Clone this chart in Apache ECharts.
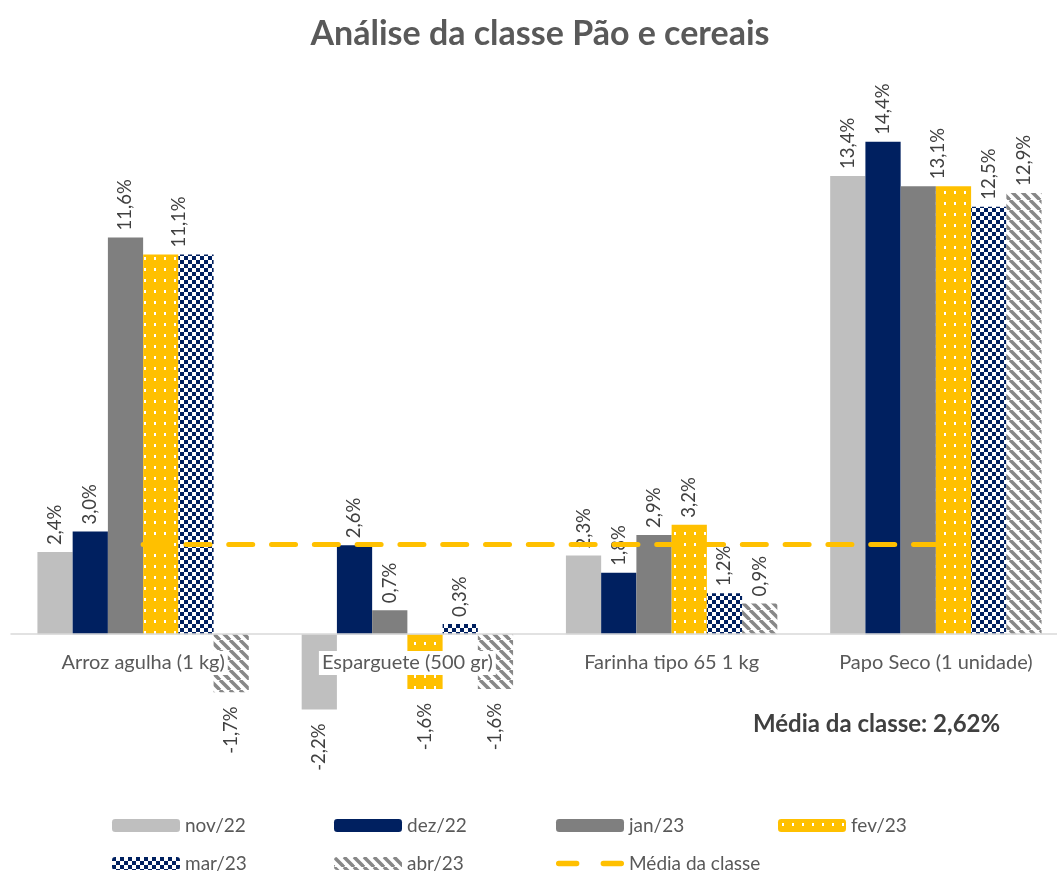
<!DOCTYPE html>
<html>
<head>
<meta charset="utf-8">
<title>Análise da classe Pão e cereais</title>
<script src="https://cdn.jsdelivr.net/npm/echarts@6/dist/echarts.min.js"></script>
<style>
  html, body { margin: 0; padding: 0; background: #fff; overflow: hidden; }
  #chart { width: 1080px; height: 875px; }
</style>
</head>
<body>
<div id="chart"></div>
<script>
// dados
var categorias = ['Arroz agulha (1 kg)', 'Esparguete (500 gr)', 'Farinha tipo 65 1 kg', 'Papo Seco (1 unidade)'];
var nov22 = [2.4, -2.2, 2.3, 13.4];
var dez22 = [3.0, 2.6, 1.8, 14.4];
var jan23 = [11.6, 0.7, 2.9, 13.1];
var fev23 = [11.1, -1.6, 3.2, 13.1];
var mar23 = [11.1, 0.3, 1.2, 12.5];
var abr23 = [-1.7, -1.6, 0.9, 12.9];
var mediaClasse = [2.62, 2.62, 2.62, 2.62];

var chart = echarts.init(document.getElementById('chart'));

// padrões de preenchimento (pontos, xadrez, riscas)
function padrao(w, h, desenhar) {
    var c = document.createElement('canvas');
    c.width = w; c.height = h;
    desenhar(c.getContext('2d'));
    return { image: c, repeat: 'repeat' };
}
var pontos = padrao(10, 11, function (ctx) {
    ctx.fillStyle = '#FFC000'; ctx.fillRect(0, 0, 10, 11);
    ctx.fillStyle = '#ffffff'; ctx.fillRect(4, 4, 2, 3);
});
var xadrez = padrao(8, 8, function (ctx) {
    ctx.fillStyle = '#ffffff'; ctx.fillRect(0, 0, 8, 8);
    ctx.fillStyle = '#002060'; ctx.fillRect(0, 0, 4, 4); ctx.fillRect(4, 4, 4, 4);
});
var riscas = padrao(10, 10, function (ctx) {
    ctx.fillStyle = '#ffffff'; ctx.fillRect(0, 0, 10, 10);
    ctx.strokeStyle = '#878787'; ctx.lineWidth = 3.5;
    [-10, 0, 10].forEach(function (k) {
        ctx.beginPath(); ctx.moveTo(k, 0); ctx.lineTo(k + 10, 10); ctx.stroke();
    });
});

function fmt(v) { return v.toFixed(1).replace('.', ',') + '%'; }

// etiquetas verticais: acima das barras positivas, abaixo das negativas
// (o offset é no referencial rodado: [0, +n] desloca para a direita)
function dadosComEtiquetas(valores, ocultar, desvios) {
    return valores.map(function (v, i) {
        var lab = v >= 0
            ? { position: 'top', align: 'left', distance: 7 }
            : { position: 'bottom', align: 'right', distance: 14 };
        if (ocultar && ocultar.indexOf(i) >= 0) lab.show = false;
        if (desvios && desvios[i]) lab.offset = desvios[i];
        return { value: v, label: lab };
    });
}

var etiqueta = {
    show: true,
    rotate: 90,
    verticalAlign: 'middle',
    color: '#404040',
    fontSize: 18.5,
    fontFamily: 'Lato',
    formatter: function (p) { return fmt(p.value); }
};

function barra(nome, valores, cor, ocultar, desvios) {
    return {
        name: nome,
        type: 'bar',
        data: dadosComEtiquetas(valores, ocultar, desvios),
        barGap: 0,
        barCategoryGap: '20%',
        itemStyle: { color: cor },
        label: etiqueta
    };
}

// legenda em grelha: uma legenda por item
var colunas = [107, 329, 551, 773];
var linhas = [811, 849];
var iconeTracejado = 'path://M2.5,0 H19.5 A2.5,2.5 0 0 1 19.5,5 H2.5 A2.5,2.5 0 0 1 2.5,0 Z M44.5,0 H61.5 A2.5,2.5 0 0 1 61.5,5 H44.5 A2.5,2.5 0 0 1 44.5,0 Z';
var itensLegenda = ['nov/22', 'dez/22', 'jan/23', 'fev/23', 'mar/23', 'abr/23', 'Média da classe'];
var legendas = itensLegenda.map(function (nome, i) {
    var item = { name: nome };
    if (nome === 'Média da classe') item.icon = iconeTracejado;
    return {
        data: [item],
        left: colunas[i % 4],
        top: linhas[Math.floor(i / 4)],
        itemWidth: 68,
        itemHeight: 13,
        textStyle: { color: '#595959', fontSize: 19, fontFamily: 'Lato' }
    };
});

var option = {
    animation: false,
    title: [
        {
            text: 'Análise da classe Pão e cereais',
            left: 'center',
            top: 12,
            textStyle: { color: '#595959', fontSize: 34, fontWeight: 'bold', fontFamily: 'Lato' }
        },
        {
            text: 'Média da classe: 2,62%',
            left: 748,
            top: 707,
            textStyle: { color: '#404040', fontSize: 24, fontWeight: 'bold', fontFamily: 'Lato' }
        }
    ],
    legend: legendas,
    grid: { left: 11, top: 87, width: 1057, height: 684 },
    xAxis: {
        type: 'category',
        data: categorias,
        z: 10,
        axisLine: { lineStyle: { color: '#D9D9D9', width: 1.5 } },
        axisTick: { show: false },
        axisLabel: {
            color: '#595959',
            fontSize: 20,
            fontFamily: 'Lato',
            margin: -120,
            backgroundColor: '#ffffff',
            padding: [2, 3]
        }
    },
    yAxis: {
        type: 'value',
        min: -4,
        max: 16,
        show: false,
        splitLine: { show: false }
    },
    series: [
        barra('nov/22', nov22, '#BFBFBF'),
        barra('dez/22', dez22, '#002060'),
        barra('jan/23', jan23, '#7F7F7F', [3]),
        barra('fev/23', fev23, pontos, null, { 0: [0, 18], 3: [0, -15] }),
        barra('mar/23', mar23, xadrez, [0]),
        barra('abr/23', abr23, riscas),
        {
            name: 'Média da classe',
            type: 'line',
            data: mediaClasse,
            symbol: 'none',
            z: 5,
            itemStyle: { color: '#FFC000' },
            lineStyle: { color: '#FFC000', width: 5, type: [24, 18.8], cap: 'round' }
        }
    ]
};

chart.setOption(option);
</script>
</body>
</html>
